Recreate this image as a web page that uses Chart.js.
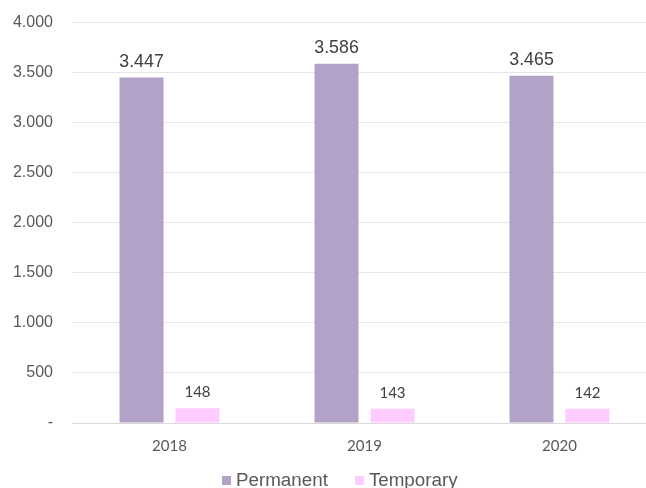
<!DOCTYPE html>
<html>
<head>
<meta charset="utf-8">
<script src="https://cdn.jsdelivr.net/npm/chart.js@4/dist/chart.umd.min.js"></script>
<style>
  html, body { margin: 0; padding: 0; background: #fff; overflow: hidden; }
  #wrap { position: relative; width: 646px; height: 488px; overflow: hidden; }
  #legend {
    position: absolute; left: 222px; top: 470px; height: 20px;
    display: flex; align-items: center;
    font: 18.8px 'Liberation Sans', Arial, sans-serif; color: #595959;
    line-height: 20px; white-space: nowrap;
  }
  #legend .item { display: flex; align-items: center; margin-right: 27px; }
  #legend .box { width: 9px; height: 9px; margin-right: 5px; }
</style>
</head>
<body>
<div id="wrap">
  <canvas id="chart" width="677" height="488"></canvas>
  <div id="legend"></div>
</div>
<script>
// values
var years = ["2018", "2019", "2020"];
var seriesNames = ["Permanent", "Temporary"];
var permanent = [3447, 3586, 3465];
var temporary = [148, 143, 142];
var yTicks = [0, 500, 1000, 1500, 2000, 2500, 3000, 3500, 4000];
var colors = ["#B3A2C7", "#FFCCFF"];

function fmt(v) {
  if (v === 0) return "-";
  return String(v).replace(/\B(?=(\d{3})+(?!\d))/g, ".");
}

// draws the number above each bar
var barLabels = {
  id: "barLabels",
  afterDatasetsDraw: function(chart) {
    var ctx = chart.ctx;
    ctx.save();
    ctx.textAlign = "center";
    ctx.textBaseline = "alphabetic";
    chart.data.datasets.forEach(function(ds, i) {
      var meta = chart.getDatasetMeta(i);
      if (i === 0) {
        ctx.font = "17.8px 'Liberation Sans', Arial, sans-serif";
      } else {
        ctx.font = "15px Lato, 'Open Sans', sans-serif";
      }
      ctx.fillStyle = "#404040";
      meta.data.forEach(function(bar, j) {
        ctx.fillText(fmt(ds.data[j]), bar.x, bar.y - 11);
      });
    });
    ctx.restore();
  }
};

var chart = new Chart(document.getElementById("chart"), {
  type: "bar",
  data: {
    labels: years,
    datasets: [
      { label: seriesNames[0], data: permanent, backgroundColor: colors[0],
        categoryPercentage: 0.574, barPercentage: 0.786 },
      { label: seriesNames[1], data: temporary, backgroundColor: colors[1],
        categoryPercentage: 0.574, barPercentage: 0.786 }
    ]
  },
  options: {
    responsive: false,
    animation: false,
    layout: { padding: { top: 0, right: 20, left: 0, bottom: 19 } },
    plugins: {
      tooltip: { enabled: false },
      legend: { display: false }
    },
    scales: {
      x: {
        grid: { display: false, drawTicks: false },
        border: { color: "#D9D9D9", width: 1 },
        ticks: {
          color: "#595959",
          padding: 14,
          font: { family: "Lato, 'Open Sans', sans-serif", size: 15 }
        }
      },
      y: {
        min: 0,
        max: 4000,
        afterFit: function(scale) { scale.width = 72; },
        afterBuildTicks: function(scale) {
          scale.ticks = yTicks.map(function(v) { return { value: v }; });
        },
        border: { display: false },
        grid: { color: "#E6E6E6", drawTicks: false },
        ticks: {
          color: "#595959",
          padding: 19,
          font: { family: "'Liberation Sans', Arial, sans-serif", size: 16, lineHeight: 0.4 },
          callback: function(v) { return fmt(v); }
        }
      }
    }
  },
  plugins: [barLabels]
});

// legend below the plot, built from the dataset names and colours
var legend = document.getElementById("legend");
chart.data.datasets.forEach(function(ds) {
  var item = document.createElement("span");
  item.className = "item";
  var box = document.createElement("span");
  box.className = "box";
  box.style.background = ds.backgroundColor;
  item.appendChild(box);
  item.appendChild(document.createTextNode(ds.label));
  legend.appendChild(item);
});
</script>
</body>
</html>
